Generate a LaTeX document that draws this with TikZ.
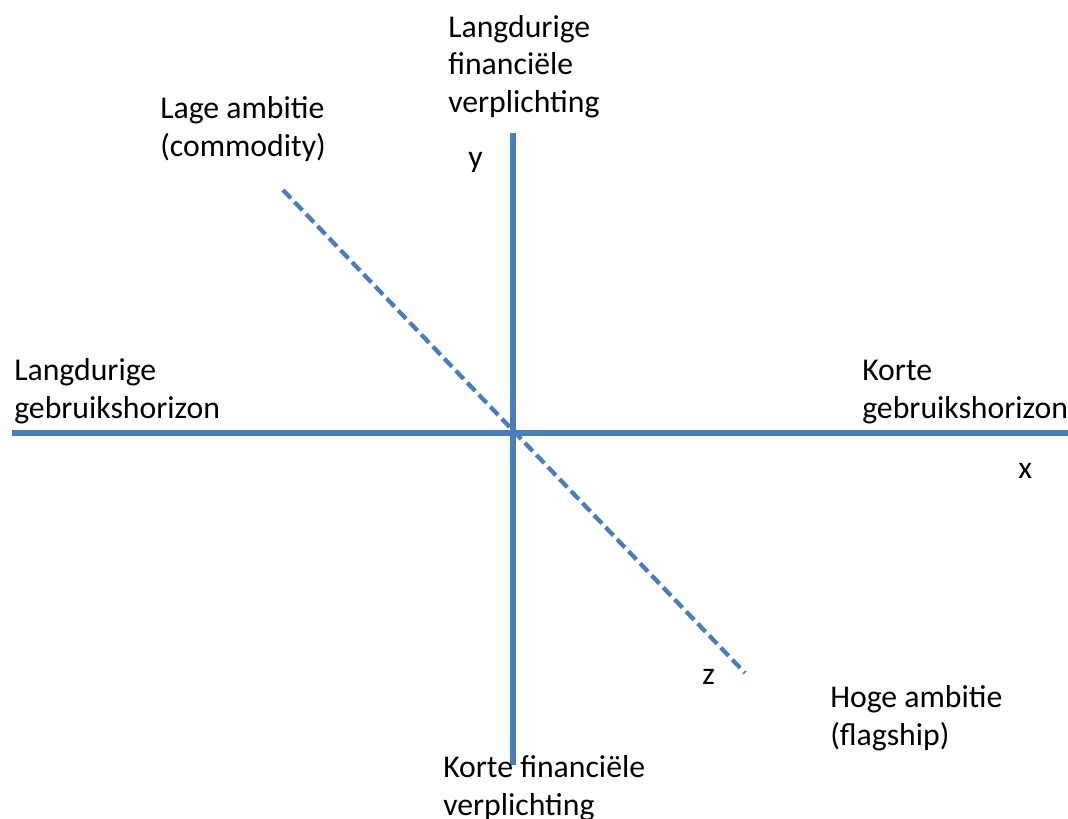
\documentclass[tikz,border=0pt]{standalone}
\usepackage{fontspec}
\setmainfont{Carlito}
\usetikzlibrary{calc}

\definecolor{axisblue}{HTML}{4A7EBB}

\begin{document}
\begin{tikzpicture}[x=0.75pt, y=-0.75pt,
   axis/.style = {draw=axisblue, line width=3.8pt},
   ambition/.style = {draw=axisblue, line width=3.2pt, dash pattern=on 8.5pt off 4pt},
   lbl/.style = {anchor=base west, align=left, inner sep=0pt,
      font=\fontsize{23.8pt}{28pt}\selectfont}]
   \useasboundingbox (0,0) rectangle (1068,818);

   \coordinate (xl) at (12,433);
   \coordinate (xr) at (1068,433);
   \coordinate (yt) at (513,133);
   \coordinate (yb) at (513,765);
   \coordinate (zt) at (283,190);
   \coordinate (zb) at (745,673);

   \draw[axis] (xl) -- (xr);
   \draw[axis] (yt) -- (yb);
   \draw[ambition] (zt) -- (zb);

   % labels (base = last line)
   \node[lbl] (yhigh) at (448,112) {Langdurige\\financiële\\verplichting};
   \node[lbl] (ylow)  at (443,815) {Korte financiële\\verplichting};
   \node[lbl] (xleft) at (14,418) {Langdurige\\gebruikshorizon};
   \node[lbl] (xright) at (862,418) {Korte\\gebruikshorizon};
   \node[lbl] (zlow)  at (160,156) {Lage ambitie\\(commodity)};
   \node[lbl] (zhigh) at (830,745) {Hoge ambitie\\(flagship)};

   \node[lbl] (ylab) at (468,167) {y};
   \node[lbl] (xlab) at (1018,478) {x};
   \node[lbl] (zlab) at (702,684) {z};
\end{tikzpicture}
\end{document}
